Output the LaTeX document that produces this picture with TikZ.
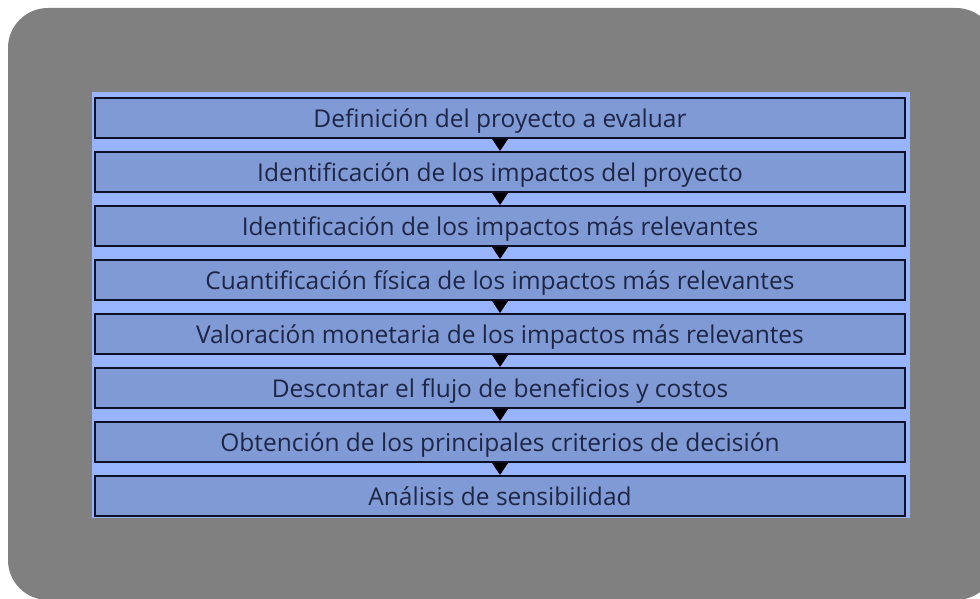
\documentclass[tikz,border=0pt]{standalone}
\usepackage{fontspec}
\setmainfont{Open Sans}
\definecolor{bggray}{RGB}{128,128,128}
\definecolor{panelblue}{RGB}{153,180,255}
\definecolor{boxblue}{RGB}{128,154,214}
\definecolor{boxline}{RGB}{12,16,40}
\definecolor{txt}{RGB}{30,38,70}
\tikzset{
  stepbox/.style={draw=boxline, line width=2pt, fill=boxblue, minimum width=810pt, minimum height=40pt, inner sep=0pt, text height=19pt, text depth=0pt, font=\fontsize{24.5pt}{27pt}\selectfont, text=txt},
  tri/.style={fill=black, draw=none}
}
\begin{document}
\begin{tikzpicture}[x=1pt,y=-1pt]
\useasboundingbox (0,0) rectangle (980,599);
\fill[white] (0,0) rectangle (980,599);
\fill[bggray, rounded corners=40pt] (8,8) rectangle (996,600);
\fill[panelblue] (92,92) rectangle (910,518);
\foreach \i/\t in {0/{Definición del proyecto a evaluar},
                   1/{Identificación de los impactos del proyecto},
                   2/{Identificación de los impactos más relevantes},
                   3/{Cuantificación física de los impactos más relevantes},
                   4/{Valoración monetaria de los impactos más relevantes},
                   5/{Descontar el flujo de beneficios y costos},
                   6/{Obtención de los principales criterios de decisión},
                   7/{Análisis de sensibilidad}} {
  \node[stepbox] (b\i) at (500,{118+54*\i}) {\t};
}
\foreach \i [evaluate=\i as \j using int(\i+1)] in {0,...,6} {
  \fill[tri] ([xshift=-8pt]b\i.south) -- ([xshift=8pt]b\i.south) -- (b\j.north) -- cycle;
}
\end{tikzpicture}
\end{document}
